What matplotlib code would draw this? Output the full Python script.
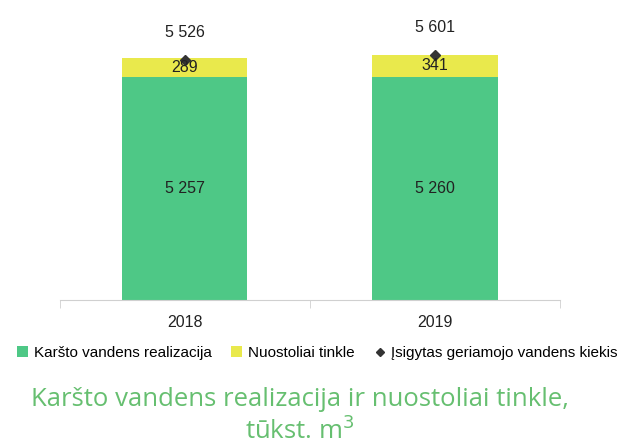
import numpy as np
import matplotlib.pyplot as plt
from matplotlib.lines import Line2D
from matplotlib.patches import Patch

# ──────────────────────────────────────────────
#  DATA (tūkst. m³)
# ──────────────────────────────────────────────
years = ["2018", "2019"]
realizacija = [5257, 5260]
nuostoliai = [289, 341]
isigyta = [5526, 5601]

GREEN = "#4ec886"
YELLOW = "#e9e94c"
TITLE_GREEN = "#66bf70"

plt.rcParams['font.family'] = ['Liberation Sans', 'DejaVu Sans']

fig = plt.figure(figsize=(6.31, 4.45), dpi=100)
ax = fig.add_axes([0.095, 0.3258, 0.7925, 0.629])

x = np.arange(len(years))
ax.bar(x, realizacija, width=0.5, color=GREEN, zorder=2)
ax.bar(x, nuostoliai, width=0.5, bottom=realizacija, color=YELLOW, zorder=2)
ax.plot(x, isigyta, linestyle='none', marker='D', markersize=5,
        color='#333333', zorder=4)

ymin = 1850
ax.set_ylim(ymin, 6128)
ax.set_xlim(-0.5, 1.5)

def fmt(v):
    return f"{v:,}".replace(",", " ")

for i in range(len(years)):
    ax.text(x[i], (ymin + realizacija[i]) / 2, fmt(realizacija[i]),
            ha='center', va='center', fontsize=11.5, color='#222222', zorder=5)
    ax.text(x[i], realizacija[i] + nuostoliai[i] / 2, fmt(nuostoliai[i]),
            ha='center', va='center', fontsize=11.5, color='#222222', zorder=5)
    ax.annotate(fmt(isigyta[i]), (x[i], isigyta[i]), xytext=(0, 19.5),
                textcoords='offset points', ha='center', va='center',
                fontsize=11.5, color='#222222', annotation_clip=False)

# axis styling
for s in ['top', 'right', 'left']:
    ax.spines[s].set_visible(False)
ax.spines['bottom'].set_color('#d0d0d0')
ax.set_yticks([])
ax.set_xticks(x)
ax.set_xticklabels(years, fontsize=11.5, color='#222222')
ax.tick_params(axis='x', which='major', length=0, pad=11)
ax.set_xticks([-0.5, 0.5, 1.5], minor=True)
ax.tick_params(axis='x', which='minor', length=6, color='#d0d0d0')

# legend
handles = [
    Patch(facecolor=GREEN, label='Karšto vandens realizacija'),
    Patch(facecolor=YELLOW, label='Nuostoliai tinkle'),
    Line2D([], [], linestyle='none', marker='D', markersize=4,
           color='#333333', label='Įsigytas geriamojo vandens kiekis'),
]
fig.legend(handles=handles, loc='center', bbox_to_anchor=(0.503, 0.207),
           ncol=3, frameon=False, fontsize=11, handlelength=0.7,
           handleheight=0.7, handletextpad=0.4, columnspacing=1.3)

# title below
title_font = dict(ha='center', va='center', fontsize=18.5, color=TITLE_GREEN,
                  family=['Open Sans', 'DejaVu Sans'])
fig.text(0.475, 1 - 399 / 445, "Karšto vandens realizacija ir nuostoliai tinkle,",
         **title_font)
fig.text(0.475, 1 - 431 / 445, "tūkst. m$^{3}$", **title_font)

fig.savefig("out.png", dpi=100)
